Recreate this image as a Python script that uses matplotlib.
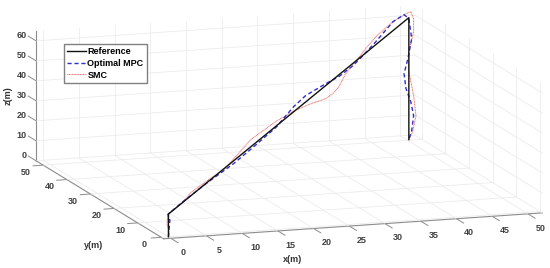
#!/usr/bin/env python3
import matplotlib
matplotlib.use("Agg")
import matplotlib.pyplot as plt
from mpl_toolkits.mplot3d import proj3d

plt.rcParams["font.family"] = ["Liberation Sans", "DejaVu Sans"]
plt.rcParams["font.weight"] = "bold"
plt.rcParams["font.size"] = 6.5

ref_x = [0, 0, 50.3, 50.3]
ref_y = [0, 0, 50.3, 50.3]
ref_z = [0, 11.4, 61, 0]

mpc_x = [0, 0.3, -0.1, 3.6, 8.2, 13.7, 17.9, 22.5, 26.2, 28.7, 32.9, 35.7, 38.6, 40.7,
         43.4, 47.0, 49.3, 50.3, 50.9, 50.1, 49.3, 49.7, 50.7, 51.3, 50.9, 50.3]
mpc_z = [0, 8.0, 11.4, 15.2, 19.3, 23.5, 27.9, 33.0, 39.8, 42.9, 44.8, 45.7, 48.3, 51.3,
         55.7, 62.2, 63.5, 60.5, 49.9, 40.7, 34.0, 26.1, 18.6, 11.0, 3.9, 0]

smc_x = [0, 0.1, -0.3, -0.1, 3.0, 4.7, 8.2, 11.6, 14.5, 17.2, 22.5, 26.0, 29.4, 32.9, 34.4, 35.7,
         37.1, 38.8, 40.9, 43.4, 47.0, 49.7, 50.7, 51.3, 51.3, 50.3, 50.3, 51.3, 51.8, 51.1, 50.3]
smc_z = [0, 3.2, 6.6, 11.4, 14.3, 17.7, 20.3, 22.5, 27.2, 32.0, 36.0, 37.5, 37.8, 37.3, 38.4, 40.7,
         45.8, 49.1, 53.6, 58.2, 62.2, 63.6, 63.6, 59.5, 53.0, 44.0, 34.0, 21.0, 10.5, 3.2, 0]

x_ticks = [0, 5, 10, 15, 20, 25, 30, 35, 40, 45, 50]
y_ticks = [0, 10, 20, 30, 40, 50]
z_ticks = [0, 10, 20, 30, 40, 50, 60]

x0, x1 = -1, 52
y0, y1 = -1, 53
z0, z1 = 0, 65

W, H = 550, 268
size = 565
fig = plt.figure(figsize=(W / 100, H / 100), dpi=100)
ax = fig.add_axes([-1 / W, -144 / H, size / W, size / H], projection="3d", proj_type="ortho")
ax.patch.set_alpha(0)
ax.computed_zorder = False
ax.view_init(elev=11.8, azim=-108.5)
ax.set_box_aspect((400, 403, 133))
ax.grid(False)
ax.set_xticks([])
ax.set_yticks([])
ax.set_zticks([])

for axis in (ax.xaxis, ax.yaxis, ax.zaxis):
    axis.set_pane_color((1, 1, 1, 0))
    axis.pane.set_edgecolor("#ececec")
    axis.line.set_color("#8c8c8c")
    axis.line.set_linewidth(0.8)

# ticks and grid by hand: MATLAB's tick directions differ from what mplot3d draws
grid_kw = dict(color="#ececec", lw=0.6, zorder=1)
tick_kw = dict(color="#8c8c8c", lw=0.7, zorder=2)
for t in x_ticks:
    ax.plot([t, t], [y0, y1], [z0, z0], **grid_kw)
    ax.plot([t, t], [y1, y1], [z0, z1], **grid_kw)
    ax.plot([t, t], [y0, y0 - 3], [z0, z0], **tick_kw)
for t in y_ticks:
    ax.plot([x0, x1], [t, t], [z0, z0], **grid_kw)
    ax.plot([x1, x1], [t, t], [z0, z1], **grid_kw)
    ax.plot([x0, x0 - 1.4], [t, t], [z0, z0], **tick_kw)
for t in z_ticks:
    ax.plot([x0, x1], [y1, y1], [t, t], **grid_kw)
    ax.plot([x1, x1], [y0, y1], [t, t], **grid_kw)
    ax.plot([x0, x0], [y1, y1 + 3.3], [t, t], **tick_kw)

# the y trace runs along x: both curves are read in the plane y = x
ax.plot(ref_x, ref_y, ref_z, color="#111111", lw=1.0, zorder=5, label="Reference")
ax.plot(mpc_x, mpc_x, mpc_z, color="#3030cc", lw=1.0, ls=(0, (3, 2)), zorder=4, label="Optimal MPC")
ax.plot(smc_x, smc_x, smc_z, color="#ee6666", lw=0.7, ls=(0, (1, 0.6)), zorder=3, label="SMC")

ax.set_xlim(x0, x1, view_margin=0)
ax.set_ylim(y0, y1, view_margin=0)
ax.set_zlim(z0, z1, view_margin=0)


def tick_label(x, y, z, value, ha="center"):
    px, py, _ = proj3d.proj_transform(x, y, z, ax.get_proj())
    ax.text2D(px, py, str(value), transform=ax.transData, ha=ha, va="center", color="#404040")


for t in x_ticks:
    tick_label(t, -6.4, -3.2, t)
for t in y_ticks:
    tick_label(-3.4, t, -3, t)
for t in z_ticks:
    tick_label(-1, 57, t, t, ha="right")

ax.legend(loc="upper left", bbox_to_anchor=(64 / W, 1 - 44 / H), bbox_transform=fig.transFigure,
          fontsize=6.5, fancybox=False, framealpha=1, edgecolor="#808080", borderpad=0.35,
          labelspacing=0.3, handlelength=2.1, handletextpad=0.15, borderaxespad=0)

fig.text(293 / W, 1 - 259 / H, "x(m)", ha="center", va="center", color="#333333")
fig.text(94 / W, 1 - 246 / H, "y(m)", ha="center", va="center", color="#333333")
fig.text(8 / W, 1 - 96 / H, "z(m)", ha="center", va="center", rotation=90, color="#333333")

fig.savefig("out.png", dpi=100)
